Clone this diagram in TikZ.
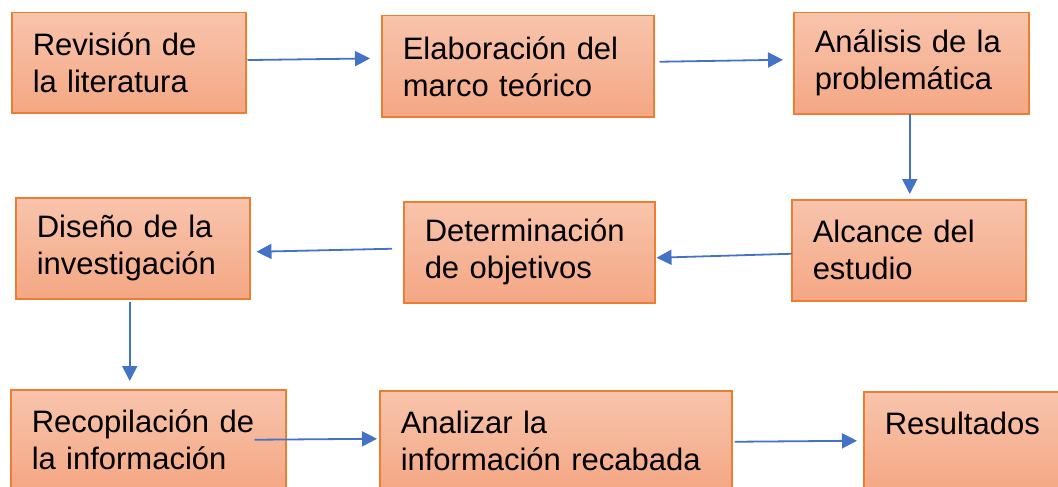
\documentclass[tikz,border=0pt]{standalone}
\usepackage{fontspec}
\setmainfont{Liberation Sans}
\usepackage{xcolor}
\usetikzlibrary{arrows.meta}
\usetikzlibrary{positioning}
\definecolor{boxline}{HTML}{ED7D31}
\definecolor{boxtop}{HTML}{F8C4AC}
\definecolor{boxbottom}{HTML}{F4A784}
\definecolor{arrowblue}{HTML}{4472C4}
\tikzset{
	stage/.style={draw=boxline, line width=1.5pt, top color=boxtop, bottom color=boxbottom,
		anchor=north west, align=left, inner xsep=21pt, inner ysep=0pt,
		minimum height=100pt, font=\fontsize{31}{37}\selectfont},
	flow/.style={draw=arrowblue, line width=1.8pt, -{Triangle[length=15pt,width=15pt]}}
}

\begin{document}
\begin{tikzpicture}[x=1pt,y=-1pt]
	\useasboundingbox (0,0) rectangle (1058,487);
	\node[stage, text width=192pt] (revision) at (11,12) {Revisión de\\la literatura};
	\node[stage, text width=230pt, minimum height=101pt] (marco) at (381,15) {Elaboración del\\marco teórico};
	\node[stage, text width=193pt, minimum height=101pt] (analisis) at (793,12) {Análisis de la\\problemática};
	\node[stage, text width=192pt, minimum height=101pt] (alcance) at (791,199) {Alcance del\\estudio};
	\node[stage, text width=209pt, minimum height=101pt] (objetivos) at (403,201) {Determinación\\de objetivos};
	\node[stage, text width=192pt, minimum height=101pt] (diseno) at (15,197) {Diseño de la\\investigación};
	\node[stage, text width=233pt] (recopilacion) at (10,389) {Recopilación de\\la información};
	\node[stage, text width=310pt] (analizar) at (379,390) {Analizar la\\información recabada};
	\node[stage, text width=158pt] (resultados) at (863,391) {Resultados\\\mbox{}};
	
	\draw[flow] ([xshift=1pt,yshift=2.7pt]revision.east) -- ([xshift=-11pt,yshift=7.8pt]marco.west);
	\draw[flow] ([xshift=5pt,yshift=4.5pt]marco.east) -- ([xshift=-10pt,yshift=3.5pt]analisis.west);
	\draw[flow] ([xshift=-1.5pt,yshift=1pt]analisis.south) -- ([xshift=1pt,yshift=5pt]alcance.north);
	\draw[flow] ([xshift=1pt,yshift=-3.5pt]alcance.west) -- ([xshift=1pt,yshift=-5.5pt]objetivos.east);
	\draw[flow] ([xshift=-11pt,yshift=3.5pt]objetivos.west) -- ([xshift=6pt,yshift=-3.5pt]diseno.east);
	\draw[flow] ([xshift=-3pt,yshift=-2pt]diseno.south) -- ([xshift=-18.5pt,yshift=8pt]recopilacion.north);
	\draw[flow] ([xshift=-32pt]recopilacion.east) -- ([xshift=-2pt,yshift=2pt]analizar.west);
	\draw[flow] ([xshift=2pt,yshift=-1pt]analizar.east) -- ([xshift=-6pt,yshift=1pt]resultados.west);
\end{tikzpicture}
\end{document}
